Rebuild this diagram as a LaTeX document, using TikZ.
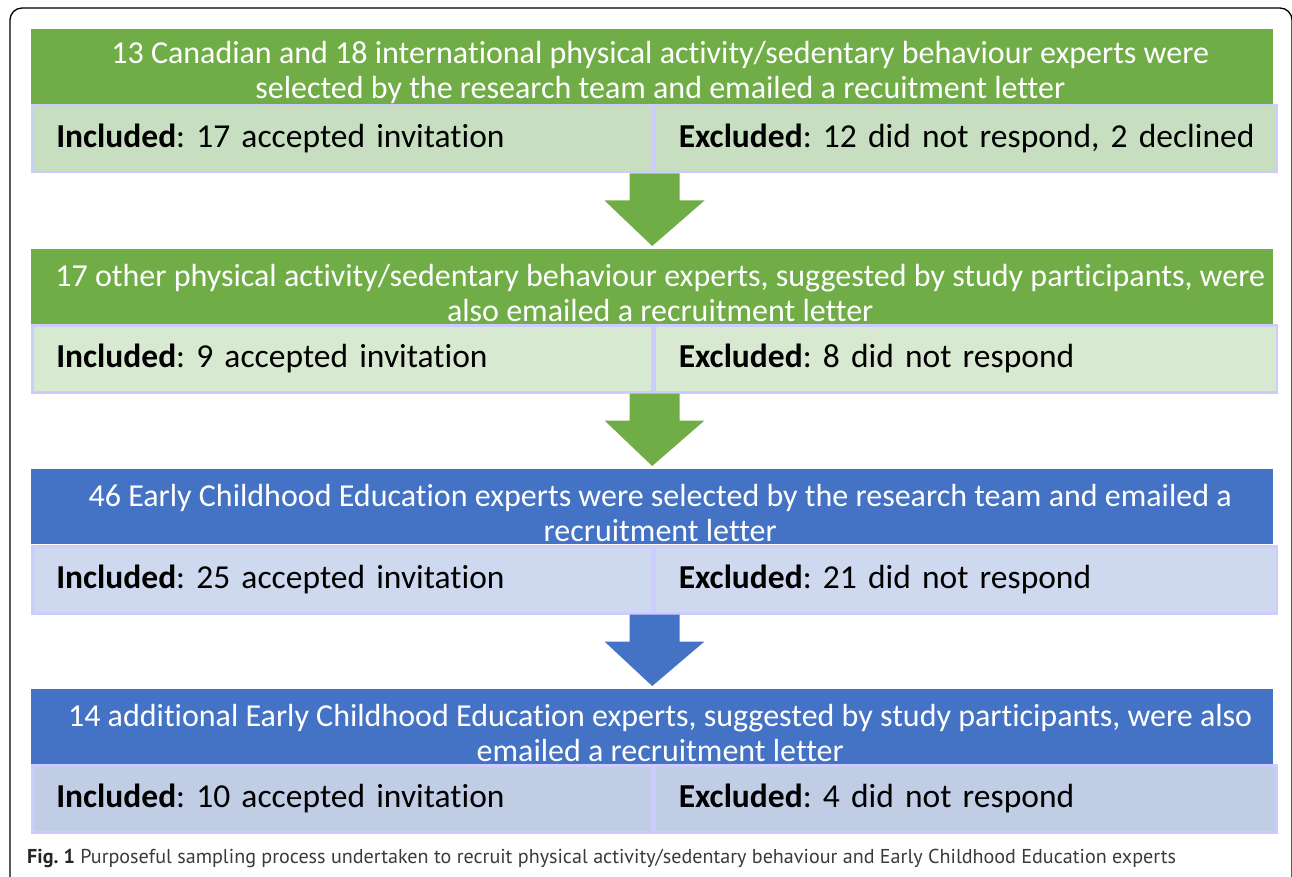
\documentclass[tikz,border=0pt]{standalone}
\usepackage{fontspec}
\setmainfont{Carlito}[Ligatures=NoCommon]
\newfontfamily\capfont{PT Sans}
\usetikzlibrary{calc}
\frenchspacing
\definecolor{hgreen}{HTML}{70AD47}
\definecolor{rgreenA}{HTML}{C7DFC0}
\definecolor{rgreenB}{HTML}{D8E9D1}
\definecolor{hblue}{HTML}{4472C4}
\definecolor{rblueA}{HTML}{CED9EF}
\definecolor{rblueB}{HTML}{C1CDE5}
\definecolor{lav}{HTML}{CCCCFF}
\definecolor{capgray}{HTML}{3A3A3A}
\tikzset{
  hdrbox/.style={anchor=north west, inner sep=0pt, minimum width=1242pt, minimum height=75pt},
  hdrtext/.style={text=white, align=center, inner sep=0pt, font=\fontsize{32}{35}\selectfont},
  rowcell/.style={anchor=north west, draw=lav, line width=2.5pt, inner ysep=0pt, inner xsep=24pt,
    minimum height=67pt, align=left, font=\fontsize{33.5}{36}\selectfont, text=black},
  leftcell/.style={rowcell, text width=572pt},
  rightcell/.style={rowcell, text width=574pt},
}
\newcommand\blockarr[3]{%
  \coordinate (#1c) at ($(#1.south east)+(1,0)$);
  \fill[#3] ($(#1c)+(-25,0)$) -- ($(#1c)+(-25,27)$) -- ($(#1c)+(-50,27)$)
    -- ($(#2.north)+(0,-3)$) -- ($(#1c)+(50,27)$) -- ($(#1c)+(25,27)$)
    -- ($(#1c)+(25,0)$) -- cycle;}
\begin{document}
\begin{tikzpicture}[x=1pt,y=-1pt]
\useasboundingbox (0,0) rectangle (1292,877);
\begin{scope}
\clip (0,0) rectangle (1292,877);
\draw[line width=1.3pt, rounded corners=12pt] (10,8) rectangle (1292,905);
\end{scope}
% box 1
\node[hdrbox, fill=hgreen] (h1) at (31,29) {};
\node[hdrtext] (t1) at ($(h1.center)+(8,6)$) {13 Canadian and 18 international physical activity/sedentary behaviour experts were\\selected by the research team and emailed a recuitment letter};
\node[leftcell, fill=rgreenA] (r1l) at (31,104) {\mbox{\textbf{Included}: 17 accepted invitation}};
\node[rightcell, fill=rgreenA] (r1r) at (r1l.north east) {\mbox{\textbf{Excluded}: 12 did not respond, 2 declined}};
% box 2
\node[hdrbox, fill=hgreen] (h2) at (31,249) {};
\node[hdrtext] (t2) at ($(h2.center)+(8,6)$) {17 other physical activity/sedentary behaviour experts, suggested by study participants, were\\also emailed a recruitment letter};
\node[leftcell, fill=rgreenB] (r2l) at (31,324) {\mbox{\textbf{Included}: 9 accepted invitation}};
\node[rightcell, fill=rgreenB] (r2r) at (r2l.north east) {\mbox{\textbf{Excluded}: 8 did not respond}};
% box 3
\node[hdrbox, fill=hblue] (h3) at (31,469) {};
\node[hdrtext] (t3) at ($(h3.center)+(8,6)$) {46 Early Childhood Education experts were selected by the research team and emailed a\\recruitment letter};
\node[leftcell, fill=rblueA] (r3l) at (31,545) {\mbox{\textbf{Included}: 25 accepted invitation}};
\node[rightcell, fill=rblueA] (r3r) at (r3l.north east) {\mbox{\textbf{Excluded}: 21 did not respond}};
% box 4
\node[hdrbox, fill=hblue] (h4) at (31,689) {};
\node[hdrtext] (t4) at ($(h4.center)+(8,6)$) {14 additional Early Childhood Education experts, suggested by study participants, were also\\emailed a recruitment letter};
\node[leftcell, fill=rblueB] (r4l) at (31,764) {\mbox{\textbf{Included}: 10 accepted invitation}};
\node[rightcell, fill=rblueB] (r4r) at (r4l.north east) {\mbox{\textbf{Excluded}: 4 did not respond}};
% arrows
\blockarr{r1l}{h2}{hgreen}
\blockarr{r2l}{h3}{hgreen}
\blockarr{r3l}{h4}{hblue}
% caption
\node[anchor=west, inner sep=0pt, text=capgray, font=\capfont\fontsize{20.1}{22}\selectfont] (cap) at (27,858)
  {\textbf{\color{black!85}Fig. 1} Purposeful sampling process undertaken to recruit physical activity/sedentary behaviour and Early Childhood Education experts};
\end{tikzpicture}
\end{document}
